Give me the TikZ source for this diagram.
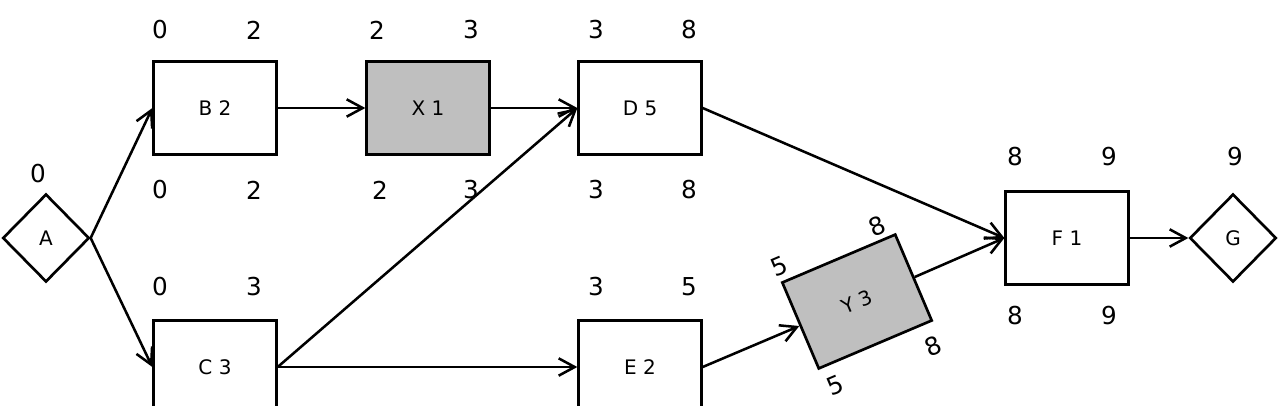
\documentclass[tikz,border=0pt]{standalone}
\usepackage{fontspec}
\setmainfont{DejaVu Sans}
\usetikzlibrary{shapes.geometric,arrows.meta}
\tikzset{
  boite/.style={draw, line width=2pt, minimum width=92pt, minimum height=70pt, inner sep=0pt, font=\fontsize{15}{15}\selectfont},
  critique/.style={boite, fill=gray!50},
  losange/.style={draw, diamond, line width=2pt, minimum width=65pt, minimum height=66pt, inner sep=0pt, font=\fontsize{15}{15}\selectfont},
  nombre/.style={inner sep=0pt, font=\fontsize{18.5}{18.5}\selectfont},
  fleche/.style={line width=1.9pt, -{Straight Barb[length=12pt,width=13pt]}}
}
\begin{document}
\begin{tikzpicture}[x=0.75pt, y=-0.75pt]

% Cadre
\clip (0,0) rectangle (1280,405);
\fill[white] (0,0) rectangle (1280,405);

% Taches
\node[losange] (A) at (46,238) {A};
\node[boite] (B) at (215,108) {B 2};
\node[critique] (X) at (428,108) {X 1};
\node[boite] (D) at (640,108) {D 5};
\node[boite] (C) at (215,367) {C 3};
\node[boite] (E) at (640,367) {E 2};
\node[critique, rotate=23] (Y) at (857,301.5) {Y 3};
\node[boite] (F) at (1067,238) {F 1};
\node[losange] (G) at (1233,238) {G};

% Fleches
\draw[fleche] (A.east) -- (B.west);
\draw[fleche] (A.east) -- (C.west);
\draw[fleche] (B.east) -- (X.west);
\draw[fleche] (X.east) -- (D.west);
\draw[fleche] (C.east) -- (D.west);
\draw[fleche] (C.east) -- (E.west);
\draw[fleche] (D.east) -- (F.west);
\draw[fleche] (E.east) -- (Y.west);
\draw[fleche] (Y.east) -- (F.west);
\draw[fleche] (F.east) -- (G.west);

% Dates
\node[nombre] (A0) at (38,174) {0};
\node[nombre] (Bh1) at (160,30) {0};
\node[nombre] (Bh2) at (254,30) {2};
\node[nombre] (Bb1) at (160,190) {0};
\node[nombre] (Bb2) at (254,190) {2};
\node[nombre] (Xh1) at (377,30) {2};
\node[nombre] (Xh2) at (471,30) {3};
\node[nombre] (Xb1) at (380,190) {2};
\node[nombre] (Xb2) at (471,190) {3};
\node[nombre] (Dh1) at (596,30) {3};
\node[nombre] (Dh2) at (689,30) {8};
\node[nombre] (Db1) at (596,190) {3};
\node[nombre] (Db2) at (689,190) {8};
\node[nombre] (Ch1) at (160,287) {0};
\node[nombre] (Ch2) at (254,287) {3};
\node[nombre] (Eh1) at (596,287) {3};
\node[nombre] (Eh2) at (689,287) {5};
\node[nombre] (Fh1) at (1015,157) {8};
\node[nombre] (Fh2) at (1109,157) {9};
\node[nombre] (Fb1) at (1015,316) {8};
\node[nombre] (Fb2) at (1109,316) {9};
\node[nombre] (G9) at (1235,157) {9};

% Dates de Y (tournees)
\node[nombre, rotate=23] (Yh1) at (779,266) {5};
\node[nombre, rotate=23] (Yh2) at (877,226) {8};
\node[nombre, rotate=23] (Yb2) at (933,346) {8};
\node[nombre, rotate=23] (Yb1) at (835,385) {5};

\end{tikzpicture}
\end{document}
